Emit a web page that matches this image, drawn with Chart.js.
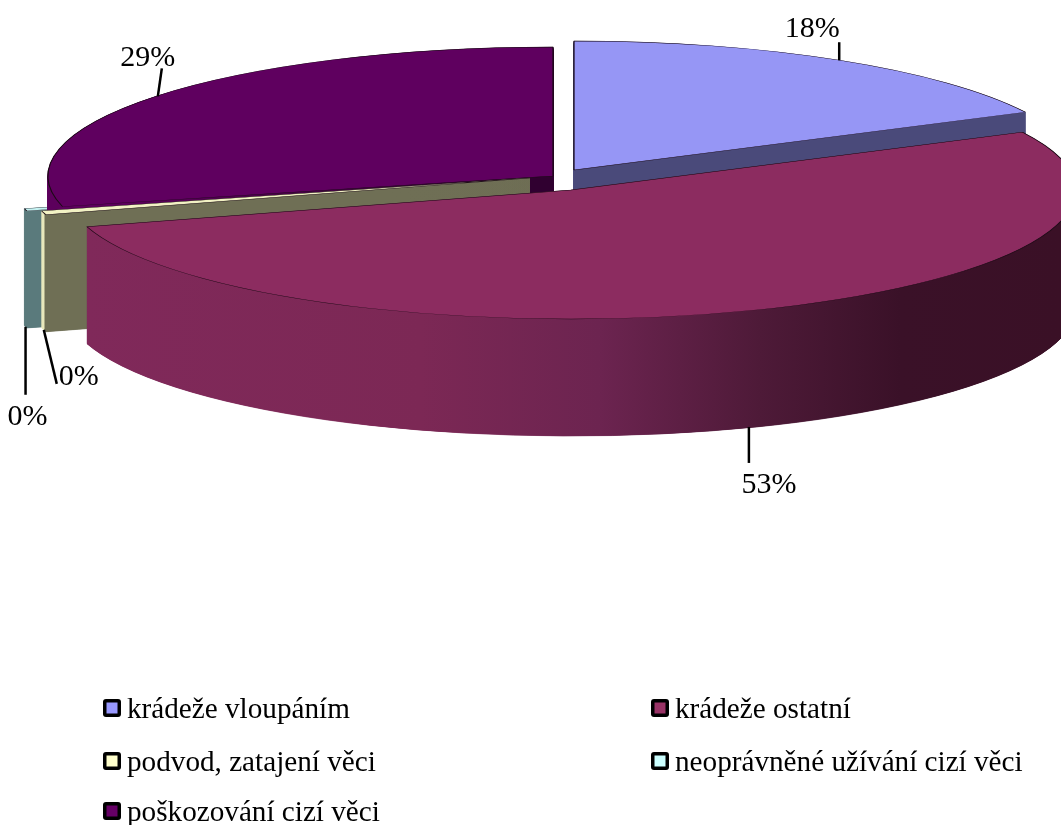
<!DOCTYPE html>
<html><head><meta charset="utf-8">
<style>html,body{margin:0;padding:0;background:#fff}canvas{display:block}</style>
<script src="https://cdn.jsdelivr.net/npm/chart.js@4"></script></head>
<body><canvas id="c" width="1061" height="825"></canvas>
<script>
const categories = ['krádeže vloupáním','krádeže ostatní','podvod, zatajení věci','neoprávněné užívání cizí věci','poškozování cizí věci'];
const shares = [17.6, 52.8, 0.49, 0.3, 28.81];
const topColors = ['#9696f5','#8c2c60','#f2f2c4','#c4f2f2','#5f005f'];
const legendColors = ['#9999ff','#993366','#ffffcc','#ccffff','#660066'];
const wallStops = [
  [[0,'#4a4a7a'],[1061,'#4a4a7a']],
  [[85,'#80295a'],[420,'#7c2855'],[600,'#6c2450'],[760,'#4e1a38'],[900,'#3a1128'],[1061,'#3a1026']],
  [[0,'#e8e8bc'],[44,'#e8e8bc'],[45,'#6f6f55'],[1061,'#6f6f55']],
  [[0,'#5a7a7c'],[1061,'#5a7a7c']],
  [[0,'#5c005c'],[120,'#5c005c'],[500,'#300030'],[1061,'#300030']]
];
const apex = [[574,170],[571,190],[530,178],[515,178],[553,176]];
const drawOrder = [3,4,0,2,1];
// start shift x, end dx, end dy, label dx, label dy (relative to the rim point)
const leaders = [[0,0,-18,-27,-31],[-8,-8,36,12,58],[0,13,54,35,47],[0,0,68,2,90],[2,6,-28,-8,-38]];
const legendPos = [[103,708],[651,708],[103,761],[651,761],[103,811]];
const R = 505, K = 129/505, DEPTH = 117, STEP = 0.25;
const font = '"Liberation Serif","Times New Roman",serif';

const pie3d = {
  id:'pie3d',
  beforeDatasetsDraw(chart){
    const ctx = chart.ctx, arcs = chart.getDatasetMeta(0).data;
    const place = (el,i,dy)=>{ ctx.translate(apex[i][0],apex[i][1]+dy); ctx.scale(1,K); ctx.translate(-el.x,-el.y); };
    for(const i of drawOrder){
      const el = arcs[i], base = el.options, stops = wallStops[i];
      const a = stops[0][0], b = stops[stops.length-1][0];
      const fill = ctx.createLinearGradient(el.x-apex[i][0]+a,0,el.x-apex[i][0]+b,0);
      stops.forEach(s=>fill.addColorStop((s[0]-a)/(b-a),s[1]));
      el.options = Object.assign({},base,{backgroundColor:fill,borderColor:fill,borderWidth:0.8});
      for(let d=DEPTH;d>0;d-=STEP){ ctx.save(); place(el,i,d); el.draw(ctx); ctx.restore(); }
      el.options = base;
      ctx.save(); place(el,i,0); el.draw(ctx); ctx.restore();
    }
    return false;
  },
  afterDraw(chart){
    const ctx = chart.ctx, arcs = chart.getDatasetMeta(0).data;
    const total = shares.reduce((a,b)=>a+b,0);
    ctx.save();
    arcs.forEach((el,i)=>{
      const m=(el.startAngle+el.endAngle)/2, c=Math.cos(m), s=Math.sin(m);
      const x=apex[i][0]+c*R, y=apex[i][1]+s*R*K+(s>0?DEPTH:0);
      const l=leaders[i];
      ctx.strokeStyle='#000'; ctx.lineWidth=2.5;
      ctx.beginPath(); ctx.moveTo(x+l[0],y); ctx.lineTo(x+l[1],y+l[2]); ctx.stroke();
      ctx.fillStyle='#000'; ctx.font='30px '+font; ctx.textAlign='center'; ctx.textBaseline='middle';
      ctx.fillText(Math.round(shares[i]/total*100)+'%',x+l[3],y+l[4]);
    });
    categories.forEach((t,i)=>{
      const [x,y]=legendPos[i];
      ctx.fillStyle='#000'; ctx.beginPath(); ctx.roundRect(x,y-9,18,18,3); ctx.fill();
      ctx.fillStyle=legendColors[i]; ctx.fillRect(x+3.5,y-5.5,11,11);
      ctx.fillStyle='#000'; ctx.font='29.2px '+font; ctx.textAlign='left'; ctx.textBaseline='middle';
      ctx.fillText(t,x+24,y+2);
    });
    ctx.restore();
  }
};

new Chart(document.getElementById('c'),{
  type:'pie',
  data:{labels:categories,datasets:[{data:shares,backgroundColor:topColors,borderColor:'#1a0a14',borderWidth:1.2}]},
  options:{responsive:false,animation:false,radius:R,rotation:0,
    layout:{padding:0},
    plugins:{legend:{display:false},tooltip:{enabled:false}}},
  plugins:[pie3d]
});
</script></body></html>
